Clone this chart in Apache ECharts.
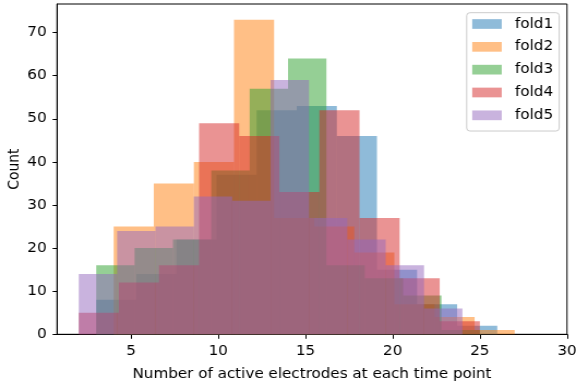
<!DOCTYPE html>
<html>
<head>
<meta charset="utf-8">
<script src="https://cdn.jsdelivr.net/npm/echarts@6/dist/echarts.min.js"></script>
<style>
  html, body { margin: 0; padding: 0; background: #fff; overflow: hidden; }
  /* the figure is drawn on a 528px canvas and widened to 576px */
  #chart {
    width: 528px; height: 389px;
    transform: scaleX(1.090909); transform-origin: 0 0;
  }
</style>
</head>
<body>
<div id="chart"></div>
<script>
// Histogram of active-electrode counts per time point, one layer per CV fold.
// Each fold uses 10 equal bins spanning its own [min, max] range.
const foldNames = ['fold1', 'fold2', 'fold3', 'fold4', 'fold5'];

const fold1Range = [3, 26];
const fold1Counts = [8, 14, 22, 37, 52, 53, 46, 15, 7, 2];

const fold2Range = [4, 27];
const fold2Counts = [25, 35, 40, 73, 27, 25, 19, 7, 4, 1];

const fold3Range = [3, 25];
const fold3Counts = [16, 20, 22, 38, 57, 64, 16, 13, 9, 1];

const fold4Range = [2, 25];
const fold4Counts = [5, 12, 16, 49, 46, 33, 52, 27, 13, 3];

const fold5Range = [2, 24];
const fold5Counts = [14, 24, 25, 32, 31, 59, 27, 22, 16, 6];

const xTickValues = [5, 10, 15, 20, 25, 30];
const yTickValues = [0, 10, 20, 30, 40, 50, 60, 70];

const foldColors = [
  'rgba(31,119,180,0.5)',
  'rgba(255,127,14,0.5)',
  'rgba(44,160,44,0.5)',
  'rgba(214,39,40,0.5)',
  'rgba(148,103,189,0.5)'
];

const ranges = [fold1Range, fold2Range, fold3Range, fold4Range, fold5Range];
const counts = [fold1Counts, fold2Counts, fold3Counts, fold4Counts, fold5Counts];

// [left edge, right edge, count] for each bin
function binRows(range, values) {
  const n = values.length;
  const w = (range[1] - range[0]) / n;
  return values.map((c, i) => [range[0] + i * w, range[0] + (i + 1) * w, c]);
}

function renderBin(params, api) {
  const topLeft = api.coord([api.value(0), api.value(2)]);
  const bottomRight = api.coord([api.value(1), 0]);
  return {
    type: 'rect',
    shape: {
      x: topLeft[0],
      y: topLeft[1],
      width: bottomRight[0] - topLeft[0],
      height: bottomRight[1] - topLeft[1]
    },
    style: { fill: api.visual('color') }
  };
}

const font = 'DejaVu Sans';
const fontSize = 13.9;
const maxCount = Math.max(...counts.map(a => Math.max(...a)));

const chart = echarts.init(document.getElementById('chart'), null, { renderer: 'canvas' });
chart.setOption({
  animation: false,
  backgroundColor: '#ffffff',
  grid: {
    left: 52.25, right: 8.25, top: 4, bottom: 54.7,
    outerBoundsMode: 'none',
    containLabel: false,
    show: true, borderColor: '#000', borderWidth: 1, backgroundColor: 'transparent'
  },
  legend: {
    orient: 'vertical',
    left: 427.8,
    top: 12.7,
    padding: [3.3, 5.6, 7.7, 5.1],
    itemWidth: 27,
    itemHeight: 9.7,
    itemGap: 6.83,
    icon: 'rect',
    backgroundColor: 'rgba(255,255,255,0.8)',
    borderColor: '#cccccc',
    borderWidth: 1,
    borderRadius: 3,
    textStyle: {
      fontFamily: font, fontSize: fontSize, color: '#000', lineHeight: 16,
      padding: [0, 0, 0, 7.2]
    },
    data: foldNames
  },
  xAxis: {
    type: 'value',
    min: 0.75,
    max: 30,
    name: 'Number of active electrodes at each time point',
    nameLocation: 'middle',
    nameGap: 33,
    nameMoveOverlap: false,
    nameTextStyle: { fontFamily: font, fontSize: fontSize, color: '#000' },
    axisLine: { show: true, lineStyle: { color: '#000', width: 1 } },
    axisTick: { show: true, length: 4.5, lineStyle: { color: '#000' }, customValues: xTickValues },
    axisLabel: { fontFamily: font, fontSize: fontSize, color: '#000', margin: 10, customValues: xTickValues },
    splitLine: { show: false }
  },
  yAxis: {
    type: 'value',
    min: 0,
    max: maxCount * 1.05,
    name: 'Count',
    nameLocation: 'middle',
    nameGap: 31.5,
    nameMoveOverlap: false,
    nameTextStyle: { fontFamily: font, fontSize: fontSize, color: '#000' },
    axisLine: { show: true, lineStyle: { color: '#000', width: 1 } },
    axisTick: { show: true, length: 4, lineStyle: { color: '#000' }, customValues: yTickValues },
    axisLabel: { fontFamily: font, fontSize: fontSize, color: '#000', margin: 9.5, customValues: yTickValues },
    splitLine: { show: false }
  },
  series: foldNames.map((name, i) => ({
    name: name,
    type: 'custom',
    renderItem: renderBin,
    itemStyle: { color: foldColors[i] },
    encode: { x: [0, 1], y: 2 },
    data: binRows(ranges[i], counts[i])
  }))
});
</script>
</body>
</html>
